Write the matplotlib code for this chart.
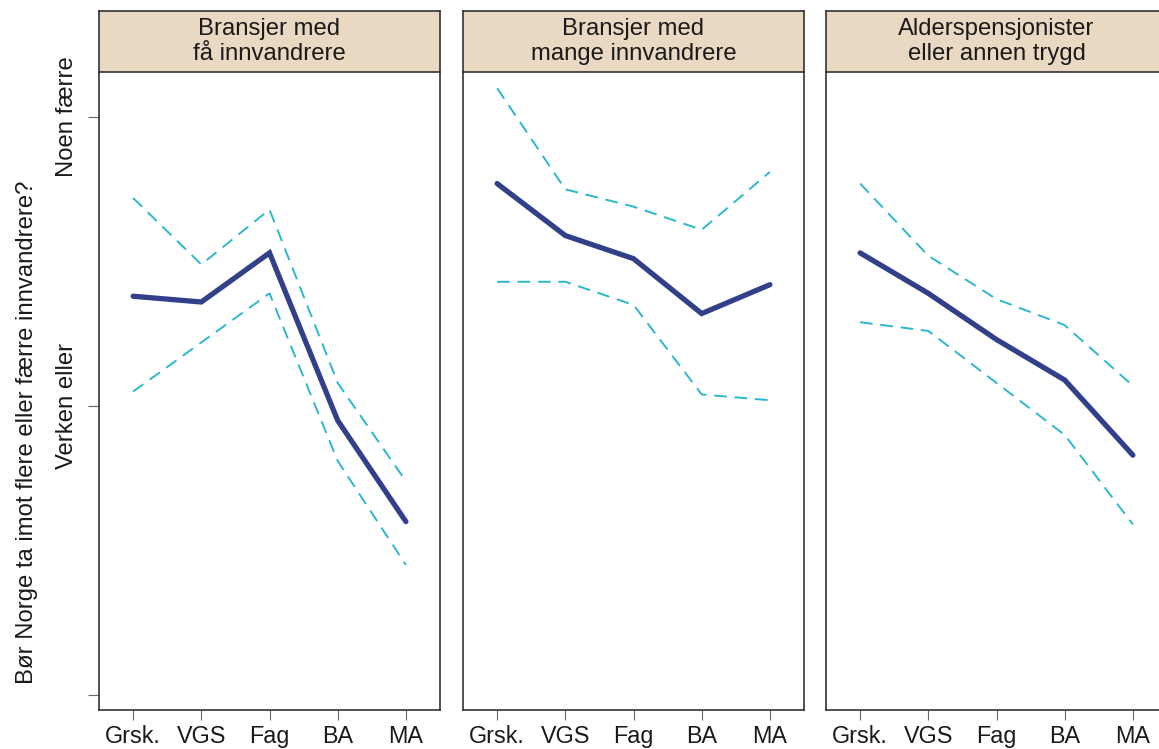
import matplotlib.pyplot as plt

plt.rcParams['font.family'] = ['Liberation Sans', 'DejaVu Sans']

# Data (scale: 2 = bottom tick, 3 = Verken eller, 4 = Noen færre)
education = ["Grsk.", "VGS", "Fag", "BA", "MA"]
panel_titles = ["Bransjer med\nfå innvandrere",
                "Bransjer med\nmange innvandrere",
                "Alderspensjonister\neller annen trygd"]

mean_few = [3.38, 3.36, 3.53, 2.95, 2.60]
upper_few = [3.72, 3.49, 3.68, 3.08, 2.74]
lower_few = [3.05, 3.22, 3.39, 2.81, 2.45]

mean_many = [3.77, 3.59, 3.51, 3.32, 3.42]
upper_many = [4.10, 3.75, 3.69, 3.61, 3.81]
lower_many = [3.43, 3.43, 3.35, 3.04, 3.02]

mean_pens = [3.53, 3.39, 3.23, 3.09, 2.83]
upper_pens = [3.77, 3.52, 3.37, 3.28, 3.07]
lower_pens = [3.29, 3.26, 3.08, 2.90, 2.59]

ytick_vals = [2, 3, 4]
ytick_labels = ["", "Verken eller", "Noen færre"]

means = [mean_few, mean_many, mean_pens]
uppers = [upper_few, upper_many, upper_pens]
lowers = [lower_few, lower_many, lower_pens]

navy = "#32408A"
cyan = "#2BB8CF"
strip_col = "#E9D8C2"
frame_col = "#333333"
text_col = "#1A1A1A"

fig = plt.figure(figsize=(11.59, 7.49), dpi=100)

W, H = 1159, 749
lefts = [99, 463, 826]
pw = 341
ax_top, ax_bot = 72, 710
strip_top = 11

x = list(range(1, len(education) + 1))

for i in range(3):
    ax = fig.add_axes([lefts[i] / W, 1 - ax_bot / H, pw / W, (ax_bot - ax_top) / H])
    ax.plot(x, uppers[i], color=cyan, lw=1.4, ls=(0, (6.5, 4)))
    ax.plot(x, lowers[i], color=cyan, lw=1.4, ls=(0, (6.5, 4)))
    ax.plot(x, means[i], color=navy, lw=3.8, solid_capstyle="round", solid_joinstyle="miter")
    ax.set_xlim(0.5, 5.5)
    ax.set_ylim(1.948, 4.156)
    ax.set_xticks(x)
    ax.set_xticklabels(education, fontsize=16.8, color=text_col)
    ax.tick_params(axis="x", length=7, color="#666666", pad=4)
    ax.spines["top"].set_visible(False)
    for s in ["left", "right", "bottom"]:
        ax.spines[s].set_color(frame_col)
        ax.spines[s].set_linewidth(1.2)
    if i == 0:
        ax.set_yticks(ytick_vals)
        ax.set_yticklabels(ytick_labels, rotation=90, va="center", fontsize=17.2, color=text_col)
        ax.tick_params(axis="y", length=8, color="#666666", pad=7)
        ax.set_ylabel("Bør Norge ta imot flere eller færre innvandrere?", fontsize=17.2, color=text_col)
        ax.yaxis.set_label_coords(-0.178, 0.436)
    else:
        ax.set_yticks([])

    sax = fig.add_axes([lefts[i] / W, 1 - ax_top / H, pw / W, (ax_top - strip_top) / H])
    sax.set_facecolor(strip_col)
    sax.set_xticks([])
    sax.set_yticks([])
    for s in sax.spines.values():
        s.set_color(frame_col)
        s.set_linewidth(1.2)
    sax.text(0.5, 0.5, panel_titles[i], ha="center", va="center", fontsize=17.2,
             linespacing=1.2, color=text_col, transform=sax.transAxes)

fig.savefig("out.png", dpi=100)
